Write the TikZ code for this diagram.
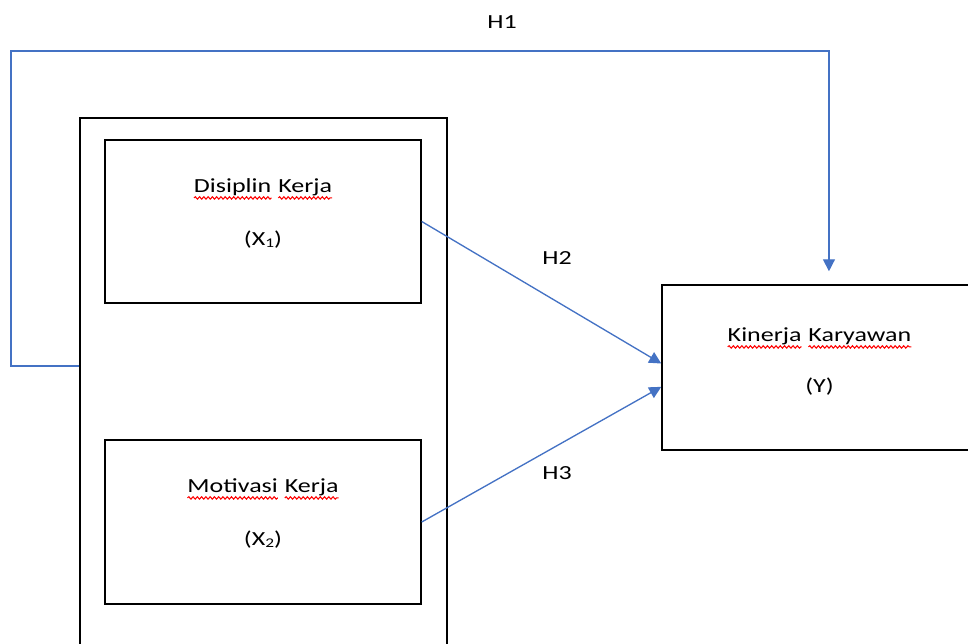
\documentclass[tikz,border=0pt]{standalone}
\usepackage{fontspec}
\setmainfont[FakeStretch=1.3]{Carlito}
\usetikzlibrary{calc, positioning, arrows.meta, decorations.pathmorphing}

\definecolor{linkblue}{HTML}{4472C4}

% red wavy underline of one word
\newcommand{\redwave}[1]{\tikz[baseline=(w.base)]{\node[inner sep=0pt, outer sep=0pt, anchor=base] (w) at (0,0) {#1};
  \draw[red, line width=0.8pt, decorate, decoration={snake, amplitude=0.9pt, segment length=3.2pt}] ([yshift=-4pt]w.base west) -- ([yshift=-4pt]w.base east);}}
% small index
\newcommand{\idx}[1]{\raisebox{-0.8pt}{\fontsize{10pt}{10pt}\selectfont #1}}

\begin{document}
\begin{tikzpicture}[x=0.75pt, y=-0.75pt,
    box/.style={draw, line width=1.1pt, inner sep=0pt},
    link/.style={draw=linkblue, line width=1pt},
    tip/.style={-{Triangle[length=9pt,width=9pt]}},
    font=\fontsize{15pt}{18pt}\selectfont]
      \useasboundingbox (0,0) rectangle (968,643);
      \clip (0,0) rectangle (968,643);

      \node[box, minimum width=275.25pt, minimum height=408pt] (grp) at (263.5,390) {};
      \node[box, minimum width=237pt, minimum height=122.25pt] (x1) at (263,221.5) {};
      \node[box, minimum width=237pt, minimum height=123pt] (x2) at (263,522) {};
      \node[box, minimum width=236.25pt, minimum height=123.75pt] (y) at (819.5,367.5) {};

      \node[anchor=base] (x1a) at ([yshift=-40pt]x1.north) {\redwave{Disiplin} \redwave{Kerja}};
      \node[anchor=base] (x1b) at ([yshift=-80pt]x1.north) {(X\idx{1})};
      \node[anchor=base] (x2a) at ([yshift=-40pt]x2.north) {\redwave{Motivasi} \redwave{Kerja}};
      \node[anchor=base] (x2b) at ([yshift=-80pt]x2.north) {(X\idx{2})};
      \node[anchor=base] (ya) at ([yshift=-43pt]y.north) {\redwave{Kinerja} \redwave{Karyawan}};
      \node[anchor=base] (yb) at ([yshift=-81pt]y.north) {(Y)};

      \node (h1) at (502,22) {H1};
      \node (h2) at (557,258) {H2};
      \node (h3) at (557,473) {H3};

      \coordinate (corner) at (11,51);
      \draw[link, tip, shorten >=9.75pt] ([yshift=18pt]grp.west) -| (corner) -| ([xshift=7.1pt]y.north);
      \draw[link, tip] (x1.east) -- ([yshift=3pt]y.west);
      \draw[link, tip] (x2.east) -- ([yshift=-14.5pt]y.west);
    \end{tikzpicture}
\end{document}
